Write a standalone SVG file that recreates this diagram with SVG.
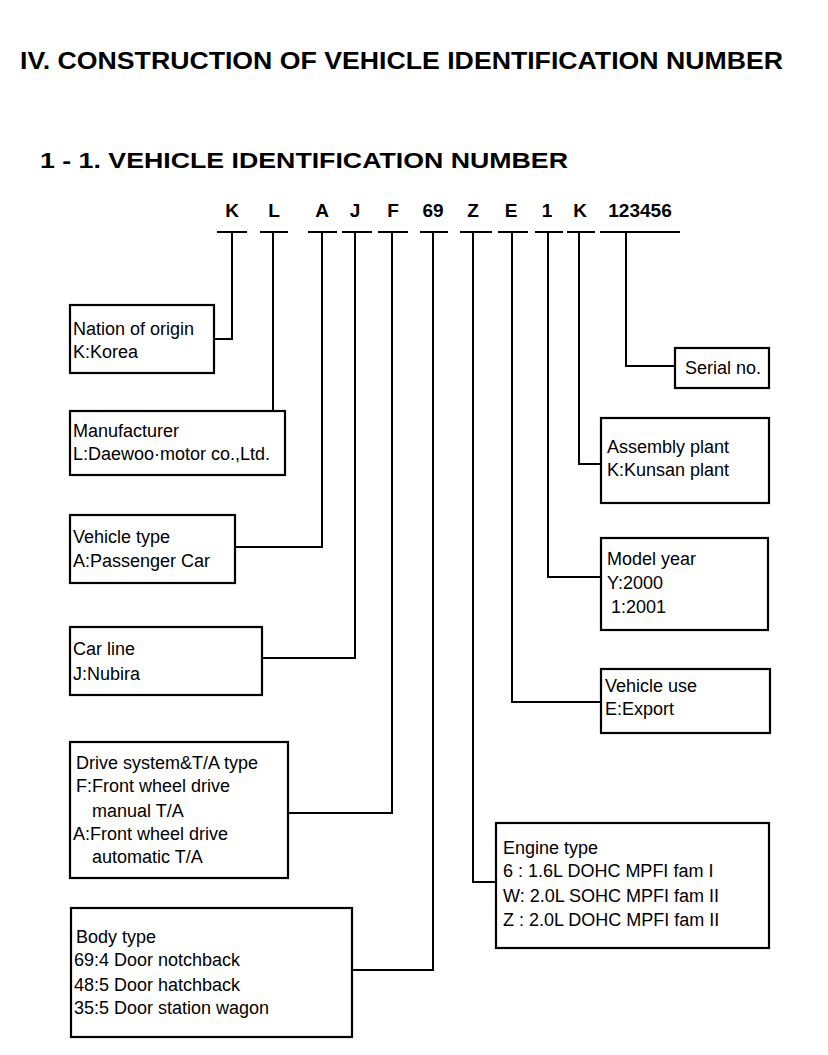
<svg xmlns="http://www.w3.org/2000/svg" width="828" height="1055" viewBox="0 0 828 1055">
<style>
text{font-family:"Liberation Sans",Arial,sans-serif;fill:#000}
.t{font-size:18px}
.h{font-weight:bold}
.c{font-size:19px;font-weight:bold;text-anchor:middle}
rect{fill:#fff;stroke:#000;stroke-width:2.2}
.ln{fill:none;stroke:#000;stroke-width:2}
</style>
<rect x="0" y="0" width="828" height="1055" style="stroke:none"/>
<g id="titles">
<text class="h" x="20" y="69" font-size="24" textLength="763" lengthAdjust="spacingAndGlyphs">IV. CONSTRUCTION OF VEHICLE IDENTIFICATION NUMBER</text>
<text class="h" x="40" y="168" font-size="22" textLength="528" lengthAdjust="spacingAndGlyphs">1 - 1. VEHICLE IDENTIFICATION NUMBER</text>
</g>
<g id="vin">
<text class="c" x="232" y="217">K</text>
<text class="c" x="274" y="217">L</text>
<text class="c" x="322" y="217">A</text>
<text class="c" x="355" y="217">J</text>
<text class="c" x="393" y="217">F</text>
<text class="c" x="433" y="217">69</text>
<text class="c" x="473" y="217">Z</text>
<text class="c" x="511" y="217">E</text>
<text class="c" x="547" y="217">1</text>
<text class="c" x="580" y="217">K</text>
<text class="c" x="640" y="217">123456</text>
</g>
<g id="connectors" class="ln">
<path class="ln" d="M217 232H247M260 232H288M308 232H337M342 232H372M378 232H408M420 232H448M460 232H492M498 232H528M535 232H563M567 232H595M600 232H680"/>
<polyline class="ln" points="232,232 232,339 214,339"/>
<polyline class="ln" points="273,232 273,411"/>
<polyline class="ln" points="322,232 322,547 235,547"/>
<polyline class="ln" points="355,232 355,658 262,658"/>
<polyline class="ln" points="392,232 392,813 288,813"/>
<polyline class="ln" points="433,232 433,970 352,970"/>
<polyline class="ln" points="473,232 473,882 496,882"/>
<polyline class="ln" points="512,232 512,702 601,702"/>
<polyline class="ln" points="548,232 548,577 601,577"/>
<polyline class="ln" points="579,232 579,464 601,464"/>
<polyline class="ln" points="626,232 626,366 675,366"/>
</g>
<g id="nation">
<rect x="70" y="305" width="144" height="68"/>
<text class="t" x="73" y="335">Nation of origin</text>
<text class="t" x="73" y="358">K:Korea</text>
</g>
<g id="manufacturer">
<rect x="70" y="411" width="215" height="64"/>
<text class="t" x="73" y="437">Manufacturer</text>
<text class="t" x="73" y="460">L:Daewoo·motor co.,Ltd.</text>
</g>
<g id="vehicle-type">
<rect x="70" y="515" width="165" height="68"/>
<text class="t" x="73" y="543">Vehicle type</text>
<text class="t" x="73" y="567">A:Passenger Car</text>
</g>
<g id="car-line">
<rect x="70" y="627" width="192" height="68"/>
<text class="t" x="73" y="655">Car line</text>
<text class="t" x="73" y="680">J:Nubira</text>
</g>
<g id="drive">
<rect x="70" y="742" width="218" height="136"/>
<text class="t" x="76" y="769">Drive system&amp;T/A type</text>
<text class="t" x="76" y="792">F:Front wheel drive</text>
<text class="t" x="92" y="817">manual T/A</text>
<text class="t" x="73" y="840">A:Front wheel drive</text>
<text class="t" x="92" y="863">automatic T/A</text>
</g>
<g id="body">
<rect x="71" y="908" width="281" height="129"/>
<text class="t" x="76" y="943">Body type</text>
<text class="t" x="74" y="966">69:4 Door notchback</text>
<text class="t" x="74" y="991">48:5 Door hatchback</text>
<text class="t" x="74" y="1014">35:5 Door station wagon</text>
</g>
<g id="serial">
<rect x="675" y="348" width="94" height="40"/>
<text class="t" x="685" y="374">Serial no.</text>
</g>
<g id="assembly">
<rect x="601" y="418" width="168" height="85"/>
<text class="t" x="607" y="453">Assembly plant</text>
<text class="t" x="607" y="476">K:Kunsan plant</text>
</g>
<g id="model-year">
<rect x="601" y="538" width="167" height="92"/>
<text class="t" x="607" y="565">Model year</text>
<text class="t" x="607" y="589">Y:2000</text>
<text class="t" x="611" y="613">1:2001</text>
</g>
<g id="vehicle-use">
<rect x="601" y="669" width="169" height="64"/>
<text class="t" x="605" y="692">Vehicle use</text>
<text class="t" x="605" y="715">E:Export</text>
</g>
<g id="engine">
<rect x="496" y="823" width="273" height="125"/>
<text class="t" x="503" y="854">Engine type</text>
<text class="t" x="503" y="877">6 : 1.6L DOHC MPFI fam I</text>
<text class="t" x="503" y="902">W: 2.0L SOHC MPFI fam II</text>
<text class="t" x="503" y="926">Z : 2.0L DOHC MPFI fam II</text>
</g>
</svg>
